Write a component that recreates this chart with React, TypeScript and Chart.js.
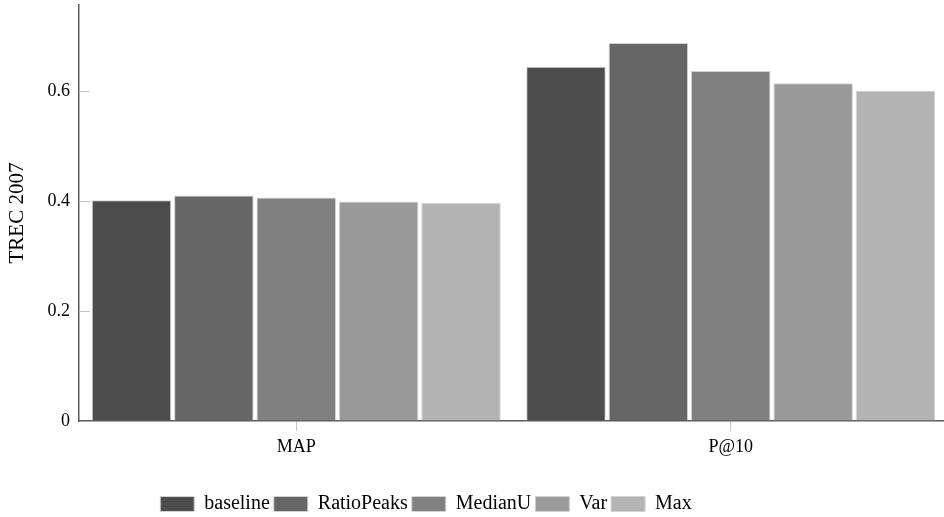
import React, { useEffect, useRef } from 'react';
import { Chart, registerables } from 'chart.js';

Chart.register(...registerables);

const CATEGORIES = ['MAP', 'P@10'];
const SERIES_NAMES = ['baseline', 'RatioPeaks', 'MedianU', 'Var', 'Max'];
const BASELINE = [0.401, 0.644];
const RATIO_PEAKS = [0.41, 0.687];
const MEDIAN_U = [0.406, 0.636];
const VAR = [0.399, 0.614];
const MAX = [0.396, 0.6];
const Y_TICKS = [0, 0.2, 0.4, 0.6];
const Y_MIN = 0;
const Y_MAX = 0.756;
const Y_TITLE = 'TREC 2007';
const COLORS = ['#4d4d4d', '#666666', '#808080', '#999999', '#b3b3b3'];

const SERIES = [BASELINE, RATIO_PEAKS, MEDIAN_U, VAR, MAX];
const FONT = '"Liberation Serif", "Times New Roman", serif';

const innerTicks = {
  id: 'innerTicks',
  afterDraw(chart: any) {
    const y = chart.scales.y;
    const ctx = chart.ctx;
    const left = chart.chartArea.left;
    ctx.save();
    ctx.strokeStyle = '#c4c4c4';
    ctx.lineWidth = 1;
    y.ticks.forEach((t: any, i: number) => {
      if (t.value === Y_MIN) return;
      const py = Math.round(y.getPixelForTick(i)) + 0.5;
      ctx.beginPath();
      ctx.moveTo(left, py);
      ctx.lineTo(left + 11, py);
      ctx.stroke();
    });
    ctx.restore();
  },
};

const legendShift = {
  id: 'legendShift',
  afterLayout(chart: any) {
    const l = chart.legend;
    if (!l) return;
    l.left -= 48;
    l.right -= 48;
  },
};

export default function App() {
  const ref = useRef<HTMLCanvasElement | null>(null);
  useEffect(() => {
    if (!ref.current) return;
    const chart = new Chart(ref.current, {
      type: 'bar',
      data: {
        labels: CATEGORIES,
        datasets: SERIES_NAMES.map((name, i) => ({
          label: name,
          data: SERIES[i],
          backgroundColor: COLORS[i],
          borderColor: '#d2d2d2',
          borderWidth: 1,
          categoryPercentage: 0.948,
          barPercentage: 0.965,
        })),
      },
      options: {
        animation: false,
        responsive: false,
        devicePixelRatio: 1,
        layout: { padding: { top: 5, left: 0, right: 0, bottom: 0 } },
        plugins: {
          tooltip: { enabled: false },
          legend: {
            position: 'bottom',
            labels: {
              boxWidth: 34,
              boxHeight: 15,
              padding: 4,
              color: '#000',
              font: { family: FONT, size: 20 },
            },
          },
        },
        scales: {
          x: {
            grid: {
              display: true,
              drawOnChartArea: false,
              drawTicks: true,
              tickLength: 10,
              offset: false,
              color: '#c4c4c4',
            },
            border: { display: true, color: '#5a5a5a', width: 1.5 },
            ticks: { color: '#000', padding: 5, font: { family: FONT, size: 18 } },
            afterFit(scale: any) {
              scale.height = 69;
              scale.paddingLeft = 0;
              scale.paddingRight = 0;
            },
          },
          y: {
            min: Y_MIN,
            max: Y_MAX,
            grid: { display: true, drawOnChartArea: false, drawTicks: false },
            border: { display: true, color: '#5a5a5a', width: 1.5 },
            ticks: {
              color: '#000',
              padding: 9,
              font: { family: FONT, size: 18 },
              callback: (v: any) => String(v),
            },
            afterBuildTicks(scale: any) {
              scale.ticks = Y_TICKS.map((v) => ({ value: v }));
            },
            afterFit(scale: any) {
              scale.width = 79;
              scale.paddingTop = 0;
              scale.paddingBottom = 0;
            },
            title: {
              display: true,
              text: Y_TITLE,
              color: '#000',
              padding: { top: 5, bottom: 0 },
              font: { family: FONT, size: 21 },
            },
          },
        },
      },
      plugins: [innerTicks, legendShift],
    } as any);
    return () => chart.destroy();
  }, []);
  return (
    <div
      style={{
        position: 'fixed',
        left: 0,
        top: 0,
        width: 944,
        height: 517,
        overflow: 'hidden',
        background: '#fff',
      }}
    >
      <canvas ref={ref} width={948} height={524} style={{ display: 'block' }} />
    </div>
  );
}
